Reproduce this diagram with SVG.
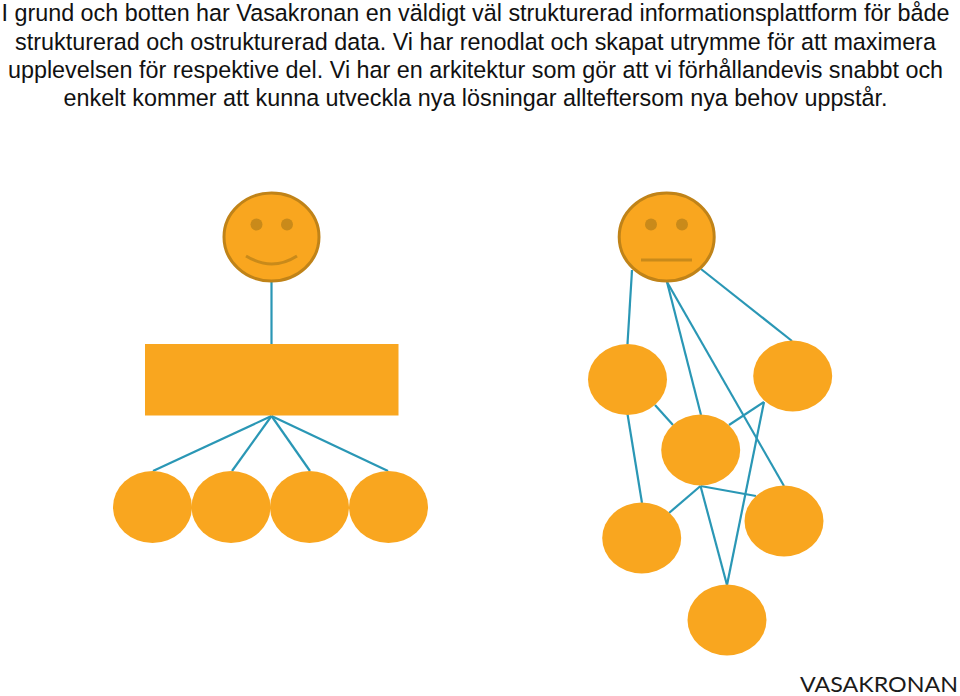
<svg xmlns="http://www.w3.org/2000/svg" width="960" height="696" viewBox="0 0 960 696">
<style>
.t{font-family:"Liberation Sans",Arial,sans-serif;font-size:23.350px;fill:#111;text-anchor:middle}
.n{fill:#f9a61f}
.f{fill:#f9a61f;stroke:#c08318;stroke-width:3}
.e{fill:#c98a1a}
.m{fill:none;stroke:#c98a1a;stroke-width:3}
#connectors line{stroke:#2a97b5;stroke-width:2.200}
</style>
<rect width="960" height="696" fill="#fff"/>
<g id="text">
<text class="t" x="475.500" y="21">I grund och botten har Vasakronan en väldigt väl strukturerad informationsplattform för både</text>
<text class="t" x="475.500" y="49.500">strukturerad och ostrukturerad data. Vi har renodlat och skapat utrymme för att maximera</text>
<text class="t" x="475.500" y="77.500">upplevelsen för respektive del. Vi har en arkitektur som gör att vi förhållandevis snabbt och</text>
<text class="t" x="475.500" y="105.500">enkelt kommer att kunna utveckla nya lösningar allteftersom nya behov uppstår.</text>
</g>
<g id="connectors">
<line x1="271.500" y1="281" x2="271.500" y2="344"/>
<line x1="271.500" y1="416" x2="153" y2="471"/>
<line x1="271.500" y1="416" x2="232" y2="471"/>
<line x1="271.500" y1="416" x2="310" y2="471"/>
<line x1="271.500" y1="416" x2="388" y2="471"/>
<line x1="632" y1="270" x2="627.500" y2="344"/>
<line x1="667" y1="282" x2="701" y2="415"/>
<line x1="667" y1="282" x2="784" y2="486"/>
<line x1="701" y1="269" x2="792" y2="341"/>
<line x1="655" y1="405" x2="673" y2="425"/>
<line x1="627.500" y1="414" x2="642" y2="503"/>
<line x1="729" y1="425" x2="764" y2="402"/>
<line x1="764" y1="402" x2="727" y2="585"/>
<line x1="700.500" y1="486" x2="669" y2="513"/>
<line x1="700.500" y1="486" x2="756" y2="496"/>
<line x1="700.500" y1="486" x2="727" y2="585"/>
</g>
<g id="face-left">
<ellipse class="f" cx="271.500" cy="237" rx="47.500" ry="44"/>
<circle class="e" cx="256.500" cy="224.500" r="6"/>
<circle class="e" cx="287" cy="224.500" r="6"/>
<path class="m" d="M246 256Q272 272 297 256"/>
</g>
<g id="rect-main"><rect class="n" x="145" y="344" width="253.500" height="71.500"/></g>
<g id="left-1"><ellipse class="n" cx="152.500" cy="507" rx="39.500" ry="36"/></g>
<g id="left-2"><ellipse class="n" cx="231" cy="507" rx="39.500" ry="36"/></g>
<g id="left-3"><ellipse class="n" cx="309.500" cy="507" rx="39.500" ry="36"/></g>
<g id="left-4"><ellipse class="n" cx="388.500" cy="507" rx="39.500" ry="36"/></g>
<g id="face-right">
<ellipse class="f" cx="666.700" cy="237" rx="47.500" ry="44"/>
<circle class="e" cx="651" cy="224.500" r="6"/>
<circle class="e" cx="682" cy="224.500" r="6"/>
<line class="m" x1="641" y1="260" x2="692" y2="260"/>
</g>
<g id="node-a"><ellipse class="n" cx="627.500" cy="379.500" rx="39.500" ry="35.500"/></g>
<g id="node-b"><ellipse class="n" cx="792.700" cy="376" rx="39.500" ry="35.500"/></g>
<g id="node-c"><ellipse class="n" cx="700.700" cy="450" rx="39.500" ry="35.500"/></g>
<g id="node-d"><ellipse class="n" cx="641.700" cy="538" rx="39.500" ry="35.500"/></g>
<g id="node-e"><ellipse class="n" cx="784" cy="521" rx="39.500" ry="35.500"/></g>
<g id="node-f"><ellipse class="n" cx="727" cy="620" rx="39.500" ry="35.500"/></g>
<g id="logo"><text x="800" y="691.500" font-family="Lato,'Liberation Sans',sans-serif" font-size="21" fill="#1a1a1a" textLength="158" lengthAdjust="spacingAndGlyphs">VASAKRONAN</text></g>
</svg>
